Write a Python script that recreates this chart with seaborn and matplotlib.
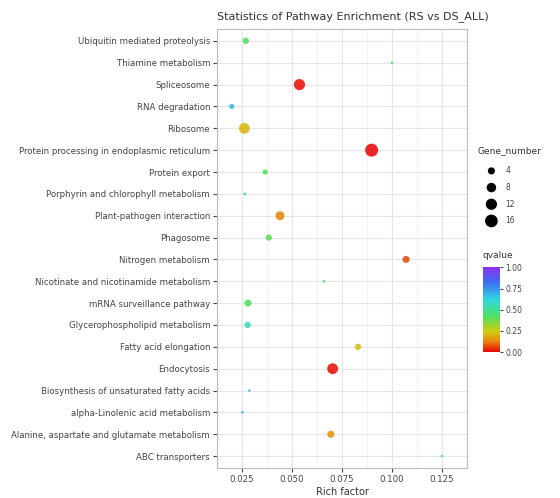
import numpy as np
import pandas as pd
import matplotlib
matplotlib.use("Agg")
import matplotlib.pyplot as plt
import seaborn as sns
from matplotlib.colors import LinearSegmentedColormap, Normalize

# ---- data (top to bottom as displayed) ----
pathways = [
    "Ubiquitin mediated proteolysis",
    "Thiamine metabolism",
    "Spliceosome",
    "RNA degradation",
    "Ribosome",
    "Protein processing in endoplasmic reticulum",
    "Protein export",
    "Porphyrin and chlorophyll metabolism",
    "Plant-pathogen interaction",
    "Phagosome",
    "Nitrogen metabolism",
    "Nicotinate and nicotinamide metabolism",
    "mRNA surveillance pathway",
    "Glycerophospholipid metabolism",
    "Fatty acid elongation",
    "Endocytosis",
    "Biosynthesis of unsaturated fatty acids",
    "alpha-Linolenic acid metabolism",
    "Alanine, aspartate and glutamate metabolism",
    "ABC transporters",
]
rich_factor = [0.0269, 0.1000, 0.0537, 0.0199, 0.0262, 0.0898, 0.0366, 0.0264,
               0.0440, 0.0384, 0.1070, 0.0660, 0.0280, 0.0278, 0.0830, 0.0703,
               0.0287, 0.0252, 0.0694, 0.1250]
gene_number = [3, 1, 12, 2, 11, 17, 2, 1, 7, 3, 4, 1, 4, 3, 3, 11, 1, 1, 4, 1]
qvalue = [0.42, 0.42, 0.01, 0.68, 0.21, 0.0, 0.42, 0.66, 0.13, 0.40, 0.07, 0.42,
          0.42, 0.56, 0.22, 0.01, 0.68, 0.68, 0.15, 0.42]
size_ticks = [4, 8, 12, 16]
q_ticks = [0.0, 0.25, 0.5, 0.75, 1.0]
x_ticks = [0.025, 0.050, 0.075, 0.100, 0.125]

df = pd.DataFrame({"Pathway": pathways, "Rich factor": rich_factor,
                   "Gene_number": gene_number, "qvalue": qvalue})
leg_df = pd.DataFrame({"x": [0] * len(size_ticks), "y": list(range(len(size_ticks))),
                       "Gene_number": size_ticks})

cmap = LinearSegmentedColormap.from_list("rb", [
    (0.0, "#E80808"), (0.12, "#E88010"), (0.24, "#D2CA10"), (0.42, "#50E060"),
    (0.62, "#30D8E0"), (0.82, "#3A70F0"), (1.0, "#8A30F0")])
norm = Normalize(0, 1)

# ggplot-like area scale: diameter = dmin + (dmax-dmin)*sqrt(rescaled value)
NMIN, NMAX = min(gene_number), max(gene_number)
DMIN_PX, DMAX_PX = 2.6, 13.0


def marker_area(n):
    t = (n - NMIN) / (NMAX - NMIN)
    d = DMIN_PX + (DMAX_PX - DMIN_PX) * np.sqrt(t)
    return (d * 0.72) ** 2


size_map = {n: marker_area(n) for n in sorted(set(gene_number) | set(size_ticks))}

sns.set_style("whitegrid")
plt.rcParams["font.family"] = ["DejaVu Sans"]
fig = plt.figure(figsize=(5.6, 4.98), dpi=100)
ax = fig.add_axes([0.3875, 0.06, 0.4465, 0.882])

sns.scatterplot(data=df, x="Rich factor", y="Pathway", hue="qvalue", palette=cmap,
                hue_norm=norm, size="Gene_number", sizes=size_map,
                linewidth=0, alpha=0.88, legend=False, ax=ax, zorder=3)

ax.set_xlim(0.0148, 0.1306)
ax.set_ylim(len(pathways) - 0.5 + 0.05, -0.5 - 0.05)
ax.set_xticks(x_ticks)
ax.set_xticklabels([f"{t:.3f}" for t in x_ticks])
ax.set_xticks([0.0125 + 0.025 * i for i in range(6)], minor=True)
ax.grid(True, which="major", color="#E6E6E6", linewidth=0.8)
ax.grid(True, which="minor", axis="x", color="#F0F0F0", linewidth=0.6)
ax.set_axisbelow(True)
for s in ax.spines.values():
    s.set_edgecolor("#BBBBBB")
    s.set_linewidth(0.8)
ax.tick_params(axis="both", which="major", length=3, color="#444444",
               labelsize=6.2, labelcolor="#444444", pad=2, left=True, bottom=True)
ax.tick_params(axis="x", which="minor", length=0)
ax.set_ylabel("")
ax.set_xlabel("Rich factor", fontsize=7, color="#333333", labelpad=2)
ax.set_title("Statistics of Pathway Enrichment (RS vs DS_ALL)", fontsize=8,
             color="#333333", pad=7, loc="left")

# size legend (own small axes)
lax = fig.add_axes([0.855, 0.5396, 0.045, 0.134])
sns.scatterplot(data=leg_df, x="x", y="y", size="Gene_number", sizes=size_map,
                color="black", linewidth=0, legend=False, ax=lax)
lax.set_xlim(-1, 1)
lax.set_ylim(len(size_ticks) - 0.5, -0.5)
lax.axis("off")
for i, n in enumerate(size_ticks):
    lax.text(1.1, i, str(n), fontsize=5.5, color="#444444", va="center", ha="left",
             clip_on=False)
fig.text(0.852, 0.697, "Gene_number", fontsize=6.5, color="#333333",
         ha="left", va="center")

# colorbar
cax = fig.add_axes([0.862, 0.293, 0.03, 0.17])
sm = plt.cm.ScalarMappable(norm=norm, cmap=cmap)
cb = fig.colorbar(sm, cax=cax, ticks=q_ticks)
cb.ax.set_yticklabels([f"{t:.2f}" for t in q_ticks])
cb.ax.tick_params(labelsize=5.5, length=2, colors="#444444", pad=2)
cb.outline.set_visible(False)
fig.text(0.862, 0.477, "qvalue", fontsize=6.5, color="#333333", ha="left", va="bottom")

fig.savefig("out.png", dpi=100)
